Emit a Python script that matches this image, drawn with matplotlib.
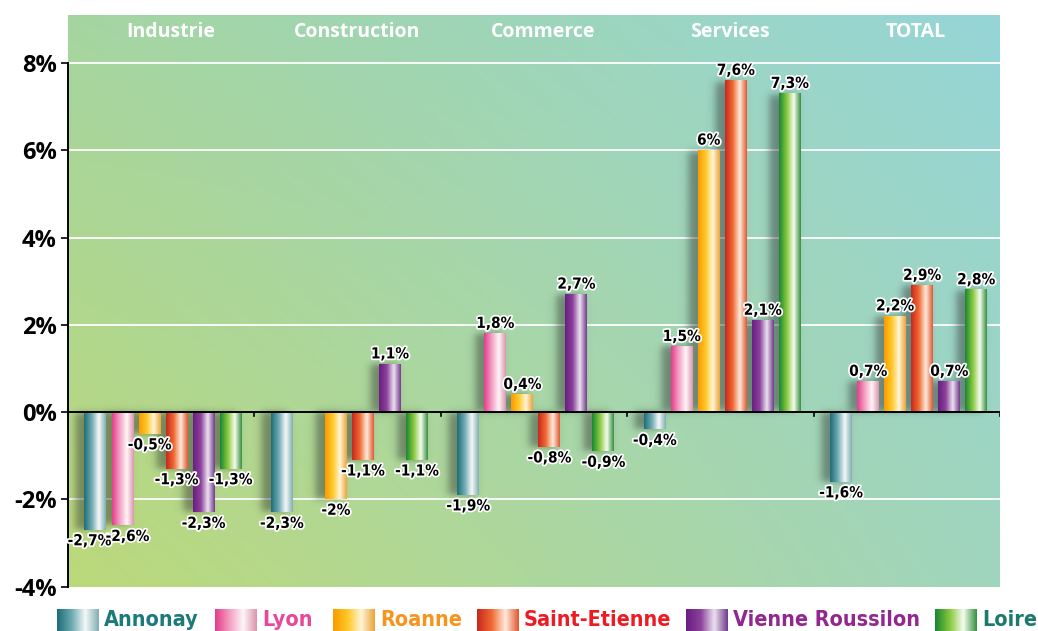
import numpy as np
import matplotlib
matplotlib.use("Agg")
import matplotlib.pyplot as plt
from matplotlib import patheffects as pe
from matplotlib.colors import LinearSegmentedColormap
from matplotlib import font_manager as fm

# ---------------- data ----------------
categories = ["Industrie", "Construction", "Commerce", "Services", "TOTAL"]
series_names = ["Annonay", "Lyon", "Roanne", "Saint-Etienne", "Vienne Roussilon", "Loire"]
annonay = [-2.7, -2.3, -1.9, -0.4, -1.6]
lyon = [-2.6, np.nan, 1.8, 1.5, 0.7]
roanne = [-0.5, -2.0, 0.4, 6.0, 2.2]
saint_etienne = [-1.3, -1.1, -0.8, 7.6, 2.9]
vienne_roussilon = [-2.3, 1.1, 2.7, 2.1, 0.7]
loire = [-1.3, -1.1, -0.9, 7.3, 2.8]
yticks = [-4, -2, 0, 2, 4, 6, 8]
ytick_labels = ["-4%", "-2%", "0%", "2%", "4%", "6%", "8%"]

series = [annonay, lyon, roanne, saint_etienne, vienne_roussilon, loire]

# ---------------- styles ----------------
def rgb(*c):
    return tuple(v / 255 for v in c)

grad_stops = [
    [rgb(30, 110, 120), rgb(110, 170, 178), rgb(245, 248, 248), rgb(130, 175, 180)],
    [rgb(230, 60, 140), rgb(243, 160, 195), rgb(255, 245, 248), rgb(220, 150, 175)],
    [rgb(250, 155, 0), rgb(255, 200, 40), rgb(255, 245, 215), rgb(235, 165, 60)],
    [rgb(200, 40, 30), rgb(240, 105, 50), rgb(255, 235, 220), rgb(225, 90, 50)],
    [rgb(105, 30, 130), rgb(140, 65, 155), rgb(235, 225, 240), rgb(115, 60, 140)],
    [rgb(25, 135, 50), rgb(135, 200, 60), rgb(245, 252, 238), rgb(55, 145, 65)],
]
stop_pos = [0.0, 0.35, 0.68, 1.0]
cmaps = [LinearSegmentedColormap.from_list(f"g{i}", list(zip(stop_pos, s)))
         for i, s in enumerate(grad_stops)]
text_colors = ["#1b7a7c", "#e8479a", "#f7941d", "#ed1c24", "#92278f", "#1b7a6e"]

# label nudges (series index, category index) -> x offset in px
label_nudge = {(0, 0): -6, (1, 0): 5}

# pick a condensed bold font
narrow_fp = None
for f in fm.fontManager.ttflist:
    if f.name == "Liberation Sans Narrow" and f.weight in (700, "bold"):
        narrow_fp = fm.FontProperties(fname=f.fname)
        break
if narrow_fp is None:
    for f in fm.fontManager.ttflist:
        if f.name == "DejaVu Sans" and "condensed" in str(f.stretch) and "Bold" in f.fname and "Oblique" not in f.fname:
            narrow_fp = fm.FontProperties(fname=f.fname)
            break
if narrow_fp is None:
    narrow_fp = fm.FontProperties(family="DejaVu Sans", weight="bold")

def nfp(size):
    p = narrow_fp.copy()
    p.set_size(size)
    return p

head_font = "Open Sans"

W, H = 1038, 631
fig = plt.figure(figsize=(W / 100, H / 100), dpi=100)
ax = fig.add_axes([68 / W, 1 - 587 / H, (1000 - 68) / W, (587 - 15) / H])

ymin, ymax = -4.01, 9.1
ncat = len(categories)
xmin, xmax = 0.0, float(ncat)
px_per_x = (1000 - 68) / ncat

# background gradient (bilinear)
ny, nx = 100, 200
yy, xx = np.mgrid[0:1:ny * 1j, 0:1:nx * 1j]
bl = np.array(rgb(188, 217, 122))
tl = np.array(rgb(165, 213, 160))
br = np.array(rgb(160, 213, 190))
tr = np.array(rgb(150, 213, 215))
bg = ((1 - xx)[..., None] * (1 - yy)[..., None] * bl + (1 - xx)[..., None] * yy[..., None] * tl
      + xx[..., None] * (1 - yy)[..., None] * br + xx[..., None] * yy[..., None] * tr)
ax.imshow(bg, extent=(xmin, xmax, ymin, ymax), origin="lower", aspect="auto",
          zorder=0, interpolation="bilinear")

for t in yticks:
    if t not in (0, yticks[0]):
        ax.axhline(t, color="white", lw=1.3, zorder=1)

pitch = 0.145
width = 0.118
nser = len(series)
offs = (np.arange(nser) - (nser - 1) / 2) * pitch + 0.01
xcent = np.arange(ncat) + 0.5

gx = np.linspace(0, 1, 64).reshape(1, -1)

def shadow(x0, x1, y0, y1):
    sx0, sx1 = x0 - 0.05, x1 - 0.03
    pad_x, pad_y = 0.06, 0.25
    ex0, ex1 = sx0 - pad_x, sx1 + pad_x
    ey0, ey1 = y0 - pad_y, y1 + pad_y
    X, Y = np.meshgrid(np.linspace(ex0, ex1, 60), np.linspace(ey0, ey1, 80))
    sx, sy = 0.025, 0.09
    fx = 0.5 * (np.tanh((X - sx0) / sx) - np.tanh((X - sx1) / sx))
    fy = 0.5 * (np.tanh((Y - y0) / sy) - np.tanh((Y - y1) / sy))
    a = 0.45 * fx * fy
    img = np.zeros(X.shape + (4,))
    img[..., :3] = 0.15
    img[..., 3] = a
    ax.imshow(img, extent=(ex0, ex1, ey0, ey1), origin="lower", aspect="auto",
              zorder=2, interpolation="bilinear")

val_fx = [pe.withStroke(linewidth=2.5, foreground="white")]
for i, vals in enumerate(series):
    bars = ax.bar(xcent + offs[i], vals, width=width, color="none", edgecolor="none", zorder=3)
    for j, (rect, v) in enumerate(zip(bars, vals)):
        if np.isnan(v):
            continue
        x0 = rect.get_x()
        x1 = x0 + rect.get_width()
        y0, y1 = sorted([rect.get_y(), rect.get_y() + rect.get_height()])
        shadow(x0, x1, y0, y1)
        ax.imshow(gx, cmap=cmaps[i], extent=(x0, x1, y0, y1), origin="lower",
                  aspect="auto", zorder=3, interpolation="bilinear")
        txt = f"{v:g}".replace(".", ",") + "%"
        xc = x0 + rect.get_width() / 2 + label_nudge.get((i, j), 0) / px_per_x
        if v >= 0:
            ax.text(xc, y1 + 0.06, txt, ha="center", va="bottom", fontproperties=nfp(11),
                    color="black", path_effects=val_fx, zorder=6)
        else:
            ax.text(xc, y0 - 0.08, txt, ha="center", va="top", fontproperties=nfp(11),
                    color="black", path_effects=val_fx, zorder=6)

# zero line and group ticks
ax.axhline(0, color="black", lw=1.4, zorder=4)
for b in range(1, ncat + 1):
    ax.plot([b, b], [0, -0.1], color="black", lw=1.2, zorder=4)

for c, name in zip(xcent, categories):
    ax.text(c + 0.05, 8.7, name, ha="center", va="center", color="white",
            fontsize=14, fontweight="bold", family=head_font, zorder=6)

ax.set_xlim(xmin, xmax)
ax.set_ylim(ymin, ymax)
ax.set_xticks([])
ax.set_yticks(yticks)
ax.set_yticklabels(ytick_labels, fontsize=17, fontweight="bold", family=head_font)
ax.tick_params(axis="y", length=5, width=1.2, pad=3)
for s in ["top", "right", "bottom"]:
    ax.spines[s].set_visible(False)
ax.spines["left"].set_linewidth(1.4)
ax.spines["left"].set_bounds(ymin, 8.0)

# legend overlay (pixel coordinates)
lax = fig.add_axes([0, 0, 1, 1], facecolor="none")
lax.set_xlim(0, W)
lax.set_ylim(H, 0)
lax.axis("off")
legend_x = [57, 215, 333, 477, 686, 935]
for i, name in enumerate(series_names):
    x = legend_x[i]
    lax.imshow(gx, cmap=cmaps[i], extent=(x, x + 42, 631, 609), aspect="auto",
               interpolation="bilinear")
    lax.text(x + 47, 620, name, ha="left", va="center", fontproperties=nfp(15.5),
             color=text_colors[i])
lax.set_xlim(0, W)
lax.set_ylim(H, 0)

fig.savefig("out.png", dpi=100)
